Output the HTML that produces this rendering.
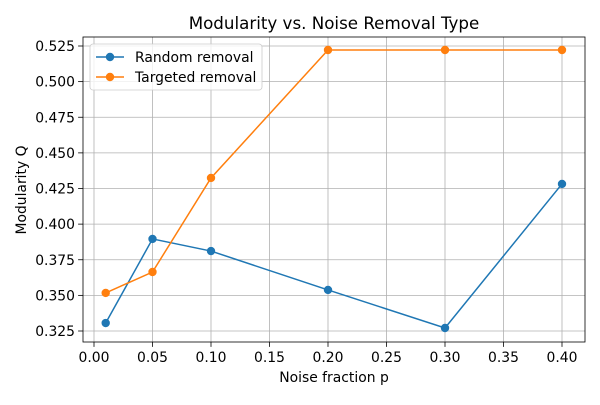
<!DOCTYPE html>
<html><head><meta charset="utf-8"><style>
body{margin:0;background:#fff;font-family:"Liberation Sans","DejaVu Sans",sans-serif}
svg text{font-family:"DejaVu Sans","Liberation Sans",sans-serif;fill:#000}
</style></head><body>
<svg id="chart" width="600" height="400" viewBox="0 0 600 400" xmlns="http://www.w3.org/2000/svg">
<rect width="600" height="400" fill="#fff"/>
<g id="grid"></g><g id="axes"></g><g id="series"></g>
</svg>
<script>
const xValues=[0.01,0.05,0.1,0.2,0.3,0.4];
const randomQ=[0.3306,0.3896,0.3811,0.3538,0.3271,0.4282];
const targetedQ=[0.3517,0.3664,0.4324,0.5222,0.5222,0.5222];
const xTicks=[0,0.05,0.1,0.15,0.2,0.25,0.3,0.35,0.4];
const yTicks=[0.325,0.35,0.375,0.4,0.425,0.45,0.475,0.5,0.525];
const L=83,R=585,T=37,B=342;
const xs=v=>94+(v-0)*1170;
const ys=v=>331-(v-0.325)*1425;
const NS="http://www.w3.org/2000/svg";
const svg=document.getElementById('chart');
function mk(tag,attrs,parent){const e=document.createElementNS(NS,tag);for(const k in attrs)e.setAttribute(k,attrs[k]);parent.appendChild(e);return e;}
const grid=document.getElementById('grid'),axes=document.getElementById('axes'),ser=document.getElementById('series');
xTicks.forEach(t=>{const x=xs(t);
 const g=mk('line',{x1:x,x2:x,y1:T,y2:B,stroke:'#b0b0b0','stroke-width':0.8},grid);
 
 
 mk('line',{x1:x,x2:x,y1:B,y2:B+4.9,stroke:'#000','stroke-width':0.8},axes);
 const tx=mk('text',{x:x,y:B+20,'text-anchor':'middle','font-size':13.9},axes);tx.textContent=t.toFixed(2);
 
 
});
yTicks.forEach(t=>{const y=ys(t);
 const g=mk('line',{x1:L,x2:R,y1:y,y2:y,stroke:'#b0b0b0','stroke-width':0.8},grid);
 
 
 mk('line',{x1:L-4.9,x2:L,y1:y,y2:y,stroke:'#000','stroke-width':0.8},axes);
 const tx=mk('text',{x:L-8,y:y+5,'text-anchor':'end','font-size':13.9},axes);tx.textContent=t.toFixed(3);
 
 
});
const frame=mk('rect',{x:L,y:T,width:R-L,height:B-T,fill:'none',stroke:'#000','stroke-width':0.8},axes);


function drawSeries(vals,color,name){
 const p=mk('polyline',{points:xValues.map((x,i)=>xs(x)+','+ys(vals[i])).join(' '),fill:'none',stroke:color,'stroke-width':1.5},ser);
 
 
 xValues.forEach((x,i)=>{const c=mk('circle',{cx:xs(x),cy:ys(vals[i]),r:4.2,fill:color},ser);
  
  });
}
drawSeries(randomQ,'#1f77b4','random-removal');
drawSeries(targetedQ,'#ff7f0e','targeted-removal');
const title=mk('text',{x:334,y:29,'text-anchor':'middle','font-size':16.7},axes);title.textContent='Modularity vs. Noise Removal Type';


const xl=mk('text',{x:334,y:382,'text-anchor':'middle','font-size':13.9},axes);xl.textContent='Noise fraction p';


const yl=mk('text',{x:0,y:0,'text-anchor':'middle','font-size':13.9,transform:'translate(26,190) rotate(-90)'},axes);yl.textContent='Modularity Q';


const lg=mk('g',{},svg);


mk('rect',{x:90,y:44,width:172,height:46,rx:3,fill:'#fff','fill-opacity':0.8,stroke:'#ccc','stroke-width':0.8},lg);
[['Random removal','#1f77b4',57],['Targeted removal','#ff7f0e',77]].forEach(([t,c,y])=>{
 const e=mk('g',{},lg);
 
 
 mk('line',{x1:96,x2:124,y1:y,y2:y,stroke:c,'stroke-width':1.5},e);
 mk('circle',{cx:110,cy:y,r:4.2,fill:c},e);
 const tx=mk('text',{x:135,y:y+5,'font-size':13.9},e);tx.textContent=t;
});
</script>
</body></html>
